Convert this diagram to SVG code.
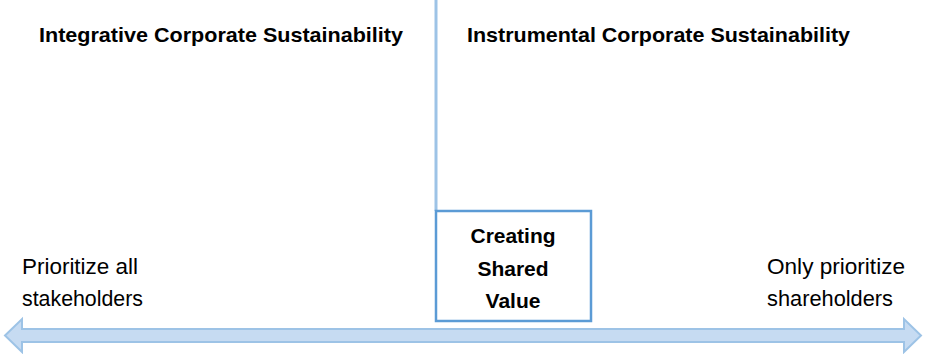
<svg xmlns="http://www.w3.org/2000/svg" width="926" height="354" viewBox="0 0 926 354">
<style>
.title{font-family:"Liberation Sans",Arial,sans-serif;font-weight:bold;font-size:21px;fill:#000}
.lbl{font-family:"Liberation Sans",Arial,sans-serif;font-size:22px;fill:#000}
.boxt{font-family:"Liberation Sans",Arial,sans-serif;font-weight:bold;font-size:21px;fill:#000;text-anchor:middle}
</style>
<rect width="926" height="354" fill="#fff"/>
<g id="connectors">
<line x1="436" y1="0" x2="436" y2="211" stroke="#9dc3e6" stroke-width="3"/>
<path d="M5,335.5 L22,319 L22,329 L904,329 L904,319 L921,335.5 L904,352 L904,342 L22,342 L22,352 Z" fill="#c6dbf2" stroke="#9dc3e6" stroke-width="2" stroke-linejoin="miter"/>
</g>
<g id="title-integrative">
<text class="title" x="39" y="42" textLength="364" lengthAdjust="spacingAndGlyphs">Integrative Corporate Sustainability</text>
</g>
<g id="title-instrumental">
<text class="title" x="467" y="42" textLength="383" lengthAdjust="spacingAndGlyphs">Instrumental Corporate Sustainability</text>
</g>
<g id="left-label">
<text class="lbl" x="22" y="274" textLength="116" lengthAdjust="spacingAndGlyphs">Prioritize all</text>
<text class="lbl" x="22" y="306" textLength="121" lengthAdjust="spacingAndGlyphs">stakeholders</text>
</g>
<g id="right-label">
<text class="lbl" x="767" y="274" textLength="138" lengthAdjust="spacingAndGlyphs">Only prioritize</text>
<text class="lbl" x="767" y="306" textLength="126" lengthAdjust="spacingAndGlyphs">shareholders</text>
</g>
<g id="csv-box">
<rect x="436" y="211" width="155" height="110" fill="#fff" stroke="#5b9bd5" stroke-width="2.5"/>
<text class="boxt" x="513" y="243" textLength="85" lengthAdjust="spacingAndGlyphs">Creating</text>
<text class="boxt" x="513" y="276">Shared</text>
<text class="boxt" x="513" y="308">Value</text>
</g>
</svg>
